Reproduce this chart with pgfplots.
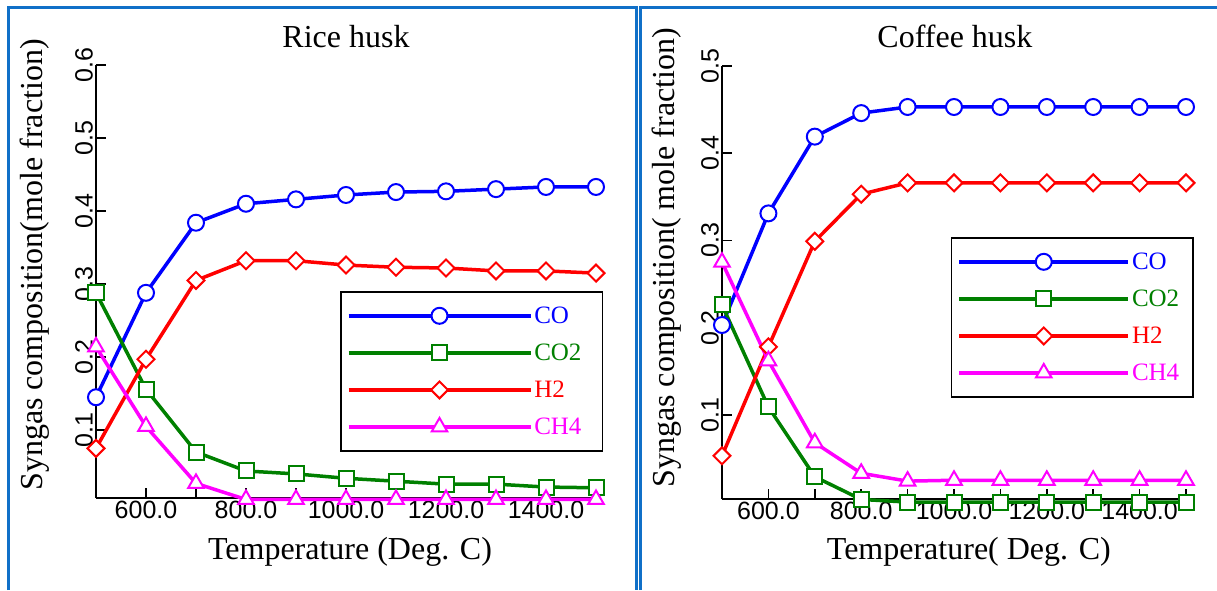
\documentclass[border=0pt]{standalone}
\usepackage{fontspec}
\setmainfont{Liberation Serif}
\setsansfont{Liberation Sans}
\usepackage{pgfplots}
\pgfplotsset{compat=1.18}

\definecolor{frameblue}{RGB}{16,112,200}
\definecolor{cgreen}{RGB}{0,128,0}
\definecolor{cblue}{RGB}{0,0,255}
\definecolor{cred}{RGB}{255,0,0}
\definecolor{cmag}{RGB}{255,0,255}

\pgfplotsset{
  panel/.style={
    scale only axis, height=433pt,
    xmin=500, xmax=1500,
    clip=false,
    axis x line*=bottom, axis y line*=left,
    axis line style={line width=1.5pt},
    tick align=inside,
    every tick/.style={black, line width=1.5pt},
    major tick length=10pt, minor tick length=10pt,
    xtick={600,800,1000,1200,1400},
    minor xtick={700,900,1100,1300,1500},
    ytick={0.1,0.2,0.3,0.4,0.5,0.6},
    xticklabel style={font=\fontsize{25}{25}\selectfont\sffamily,
      /pgf/number format/.cd, fixed, fixed zerofill, precision=1,
      1000 sep={}, assume math mode=true},
    yticklabel style={rotate=90, anchor=south, inner sep=3pt,
      font=\fontsize{25}{25}\selectfont\sffamily,
      /pgf/number format/.cd, fixed, fixed zerofill, precision=1,
      assume math mode=true},
    label style={font=\fontsize{32}{32}\selectfont},
    title style={font=\fontsize{32}{32}\selectfont, anchor=base},
    legend cell align=left,
    legend style={anchor=north west, draw=black, line width=1.5pt,
      font=\fontsize{25}{25}\selectfont, row sep=15pt,
      inner xsep=6pt, inner ysep=13pt},
  },
  co/.style={cblue, line width=3.5pt, mark=*, mark size=8pt,
    mark options={fill=white, draw=cblue, line width=2pt}},
  cotwo/.style={cgreen, line width=3.5pt, mark=square*, mark size=7.5pt,
    mark options={fill=white, draw=cgreen, line width=2pt}},
  htwo/.style={cred, line width=3.5pt, mark=square*, mark size=6pt,
    mark options={fill=white, draw=cred, line width=2pt, rotate=45}},
  chfour/.style={cmag, line width=3.5pt, mark=triangle*, mark size=9pt,
    mark options={fill=white, draw=cmag, line width=2pt}},
}

\begin{document}
\begin{tikzpicture}
\useasboundingbox (0,0) rectangle (1217pt,590pt);

% Rice husk
\begin{axis}[panel,
  at={(96pt,92pt)}, anchor=south west, width=500pt,
  ymin=0.007, ymax=0.6,
  title={Rice husk},
  title style={at={(axis description cs:0.5,1.027)}},
  xlabel={Temperature (Deg. C)},
  ylabel={Syngas composition(mole fraction)},
  xlabel style={at={(axis description cs:0.508,-0.124)}, anchor=center},
  ylabel style={at={(axis description cs:-0.122,0.538)}, anchor=center},
  legend style={at={(axis description cs:0.488,0.478)}},
  legend image code/.code={\draw[mark repeat=2,mark phase=2]
    plot coordinates {(0pt,0pt) (91pt,0pt) (182pt,0pt)};},
]
\addplot[co] coordinates {(500,0.145) (600,0.288) (700,0.384) (800,0.410)
  (900,0.416) (1000,0.422) (1100,0.426) (1200,0.427) (1300,0.430)
  (1400,0.433) (1500,0.433)};
\addlegendentry{\makebox[60pt][l]{\textcolor{cblue}{CO}}}
\addplot[cotwo] coordinates {(500,0.288) (600,0.156) (700,0.070) (800,0.044)
  (900,0.040) (1000,0.034) (1100,0.030) (1200,0.026) (1300,0.026)
  (1400,0.022) (1500,0.021)};
\addlegendentry{\textcolor{cgreen}{CO2}}
\addplot[htwo] coordinates {(500,0.075) (600,0.197) (700,0.305) (800,0.332)
  (900,0.332) (1000,0.326) (1100,0.323) (1200,0.322) (1300,0.318)
  (1400,0.318) (1500,0.315)};
\addlegendentry{\textcolor{cred}{H2}}
\addplot[chfour] coordinates {(500,0.214) (600,0.105) (700,0.027) (800,0.005)
  (900,0.005) (1000,0.005) (1100,0.005) (1200,0.005) (1300,0.005)
  (1400,0.005) (1500,0.005)};
\addlegendentry{\textcolor{cmag}{CH4}}
\end{axis}

% Coffee husk
\begin{axis}[panel,
  at={(722pt,91pt)}, anchor=south west, width=464pt,
  ymin=0.0035, ymax=0.5,
  title={Coffee husk},
  title style={at={(axis description cs:0.502,1.030)}},
  xlabel={Temperature( Deg. C)},
  ylabel={Syngas composition( mole fraction)},
  xlabel style={at={(axis description cs:0.532,-0.122)}, anchor=center},
  ylabel style={at={(axis description cs:-0.119,0.557)}, anchor=center},
  legend style={at={(axis description cs:0.493,0.605)}},
  legend image code/.code={\draw[mark repeat=2,mark phase=2]
    plot coordinates {(0pt,0pt) (84.5pt,0pt) (169pt,0pt)};},
]
\addplot[co] coordinates {(500,0.203) (600,0.331) (700,0.419) (800,0.446)
  (900,0.453) (1000,0.453) (1100,0.453) (1200,0.453) (1300,0.453)
  (1400,0.453) (1500,0.453)};
\addlegendentry{\makebox[53pt][l]{\textcolor{cblue}{CO}}}
\addplot[cotwo] coordinates {(500,0.226) (600,0.109) (700,0.029) (800,0.003)
  (900,0.000) (1000,0.000) (1100,0.000) (1200,0.000) (1300,0.000)
  (1400,0.000) (1500,0.000)};
\addlegendentry{\textcolor{cgreen}{CO2}}
\addplot[htwo] coordinates {(500,0.053) (600,0.178) (700,0.299) (800,0.353)
  (900,0.366) (1000,0.366) (1100,0.366) (1200,0.366) (1300,0.366)
  (1400,0.366) (1500,0.366)};
\addlegendentry{\textcolor{cred}{H2}}
\addplot[chfour] coordinates {(500,0.275) (600,0.162) (700,0.068) (800,0.033)
  (900,0.024) (1000,0.025) (1100,0.025) (1200,0.025) (1300,0.025)
  (1400,0.025) (1500,0.025)};
\addlegendentry{\textcolor{cmag}{CH4}}
\end{axis}

% panel frames
\draw[frameblue, line width=3pt] (8pt,0pt) -- (8pt,582pt) -- (636.5pt,582pt) -- (636.5pt,0pt);
\draw[frameblue, line width=3pt] (640.5pt,0pt) -- (640.5pt,582pt) -- (1217pt,582pt);
\end{tikzpicture}
\end{document}
